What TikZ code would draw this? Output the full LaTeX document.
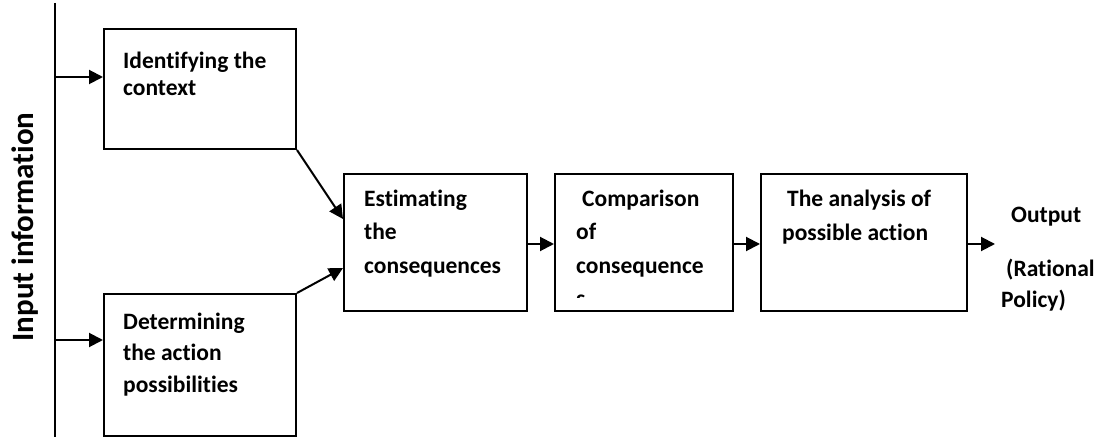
\documentclass[tikz,border=0pt]{standalone}
\usepackage{fontspec}
\setmainfont{Carlito}[Ligatures=NoCommon]
\usetikzlibrary{arrows.meta,calc}
\tikzset{
  box/.style={draw=black, line width=2bp, rectangle, inner sep=0pt, anchor=north west},
  txt/.style={anchor=base west, inner sep=0pt, font=\fontsize{23.5bp}{28bp}\selectfont\bfseries},
  conn/.style={line width=2bp, -{Triangle[length=14bp,width=14bp]}},
}
\begin{document}
\begin{tikzpicture}[x=1bp,y=-1bp]
\useasboundingbox (0,0) rectangle (1097,437);
% input line
\coordinate (ltop) at (55,3);
\coordinate (lbot) at (55,437);
\draw[line width=1.5bp] (ltop) -- (lbot);
\node[anchor=base, rotate=90, inner sep=0pt, font=\fontsize{31bp}{34bp}\selectfont\bfseries] (inp) at (33,227) {Input information};
% boxes
\node[box, minimum width=192bp, minimum height=120bp] (b1) at (103,28) {};
\node[box, minimum width=192bp, minimum height=142bp] (b2) at (103,293) {};
\node[box, minimum width=183bp, minimum height=137bp] (b3) at (343,173) {};
\node[box, minimum width=178bp, minimum height=137bp] (b4) at (554,173) {};
\node[box, minimum width=206bp, minimum height=137bp] (b5) at (760,173) {};
% texts
\node[txt] (t1a) at (123,69) {Identifying the};
\node[txt] (t1b) at (123,96) {context};
\node[txt] (t2a) at (123,330) {Determining};
\node[txt] (t2b) at (123,361) {the action};
\node[txt] (t2c) at (123,393) {possibilities};
\node[txt] (t3a) at (364,207) {Estimating};
\node[txt] (t3b) at (364,240) {the};
\node[txt] (t3c) at (364,274) {consequences};
\node[txt] (t4a) at (582,207) {Comparison};
\node[txt] (t4b) at (576,240) {of};
\node[txt] (t4c) at (576,274) {consequence};
\begin{scope}
\clip (570,285) rectangle (600,298);
\node[txt] (t4d) at (576,307) {s};
\end{scope}
\node[txt] (t5a) at (787,207) {The analysis of};
\node[txt] (t5b) at (782,241) {possible action};
\node[txt] (o1) at (1011,223) {Output};
\node[txt] (o2) at (1006,277) {(Rational};
\node[txt] (o3) at (1001,308) {Policy)};
% connectors
\coordinate (in1) at (55,77);
\coordinate (in2) at (55,340);
\draw[conn] (in1) -- (in1 -| b1.west);
\draw[conn] (in2) -- (in2 -| b2.west);
\draw[conn] (b1.south east) -- ($(b3.north west)+(0,46)$);
\draw[conn] (b2.north east) -- ($(b3.north west)+(0,95)$);
\coordinate (m3) at ($(b3.north east)+(0,71)$);
\draw[conn] (m3) -- (m3 -| b4.west);
\coordinate (m4) at ($(b4.north east)+(0,71)$);
\draw[conn] (m4) -- (m4 -| b5.west);
\coordinate (m5) at ($(b5.north east)+(0,71)$);
\coordinate (outend) at (995,244);
\draw[conn] (m5) -- (outend);
\end{tikzpicture}
\end{document}
